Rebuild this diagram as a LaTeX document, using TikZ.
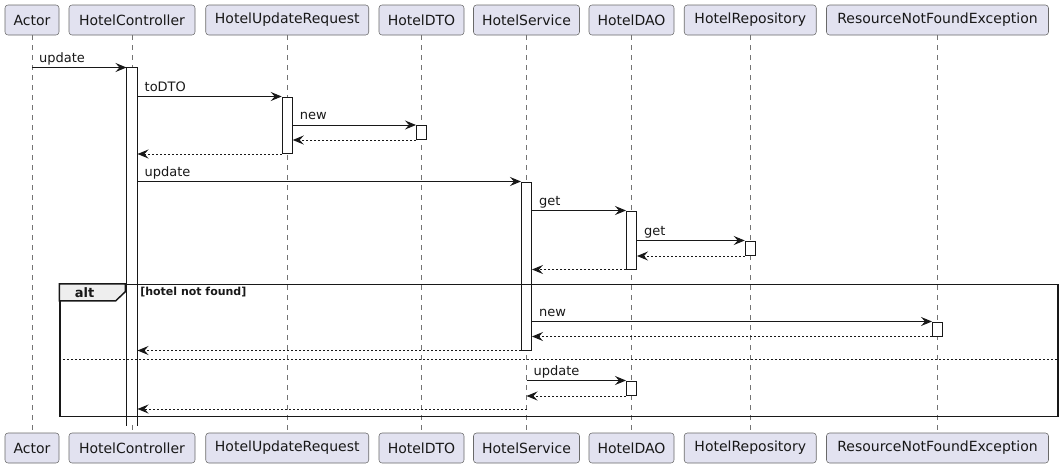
\documentclass[tikz,border=0pt]{standalone}
\usepackage{fontspec}
\setmainfont{DejaVu Sans}
\usetikzlibrary{
  positioning,
  arrows.meta,
  fit
}
\definecolor{partfill}{HTML}{E2E2F0}
\definecolor{partline}{HTML}{181818}
\definecolor{tabfill}{HTML}{EEEEEE}

\begin{document}
\begin{tikzpicture}[
  x=0.75pt, y=-0.75pt,
  part/.style={draw=partline!65, fill=partfill, rounded corners=2.25pt, minimum height=22.5pt, inner sep=0pt, font=\fontsize{10.5}{12}\selectfont, text=partline},
  life/.style={draw=partline!60, line width=0.4pt, dash pattern=on 3.75pt off 3.75pt},
  act/.style={draw=partline, fill=white, inner sep=0pt, line width=0.75pt},
  msg/.style={draw=partline, line width=0.75pt, -{Stealth[length=8.25pt, width=6.75pt, inset=3pt]}},
  ret/.style={msg, dash pattern=on 1.5pt off 1.5pt},
  lbl/.style={font=\fontsize{9.75}{11}\selectfont, text=partline, anchor=base west, inner sep=0pt, xshift=5pt, yshift=4pt},
  frame/.style={draw=partline, line width=1.1pt, inner sep=0pt},
  tab/.style={draw=partline, fill=tabfill, line width=1.1pt},
  sep/.style={draw=partline, line width=0.75pt, dash pattern=on 1.5pt off 1.5pt}
]
\useasboundingbox (0,0) rectangle (1064,468);

% Participants (top)
\node[part, minimum width=40.5pt] (actorTop) at (32,20) {Actor};
\node[part, minimum width=94.5pt] (hcTop) at (132,20) {HotelController};
\node[part, minimum width=122.25pt] (hurTop) at (287.25,20) {HotelUpdateRequest};
\node[part, minimum width=63.75pt] (dtoTop) at (421.5,20) {HotelDTO};
\node[part, minimum width=79.5pt] (hsTop) at (526.5,20) {HotelService};
\node[part, minimum width=63.75pt] (daoTop) at (631.5,20) {HotelDAO};
\node[part, minimum width=99pt] (repoTop) at (750.25,20) {HotelRepository};
\node[part, minimum width=166.5pt] (rnfeTop) at (937.5,20) {ResourceNotFoundException};

% Participants (bottom)
\node[part, minimum width=40.5pt] (actorBot) at (32,448) {Actor};
\node[part, minimum width=94.5pt] (hcBot) at (132,448) {HotelController};
\node[part, minimum width=122.25pt] (hurBot) at (287.25,448) {HotelUpdateRequest};
\node[part, minimum width=63.75pt] (dtoBot) at (421.5,448) {HotelDTO};
\node[part, minimum width=79.5pt] (hsBot) at (526.5,448) {HotelService};
\node[part, minimum width=63.75pt] (daoBot) at (631.5,448) {HotelDAO};
\node[part, minimum width=99pt] (repoBot) at (750.25,448) {HotelRepository};
\node[part, minimum width=166.5pt] (rnfeBot) at (937.5,448) {ResourceNotFoundException};

% Lifelines
\draw[life] (actorTop) -- (actorBot);
\draw[life] (hcTop) -- (hcBot);
\draw[life] (hurTop) -- (hurBot);
\draw[life] (dtoTop) -- (dtoBot);
\draw[life] (hsTop) -- (hsBot);
\draw[life] (daoTop) -- (daoBot);
\draw[life] (repoTop) -- (repoBot);
\draw[life] (rnfeTop) -- (rnfeBot);

% Activations
\node[act, draw=none, fit={(127,68) (137,425)}] (actHC) {};
\draw[draw=partline, line width=0.75pt] (actHC.south west) -- (actHC.north west) -- (actHC.north east) -- (actHC.south east);
\node[act, fit={(282.25,97) (292.25,153.5)}] (actHUR) {};
\node[act, fit={(416.5,125.5) (426.5,139.5)}] (actDTO) {};
\node[act, fit={(521.5,182) (531.5,350)}] (actHS) {};
\node[act, fit={(626.5,211) (636.5,269)}] (actDAOget) {};
\node[act, fit={(745.25,241) (755.25,255.5)}] (actRepo) {};
\node[act, fit={(932.5,322) (942.5,336)}] (actRNFE) {};
\node[act, fit={(626.5,381) (636.5,395.5)}] (actDAOupd) {};
\coordinate (hsReturn) at (526.5,409);

% Messages
\draw[msg] (actorTop |- actHC.north) -- (actHC.north west) node[lbl, pos=0] {update};
\draw[msg] (actHC.east |- actHUR.north) -- (actHUR.north west) node[lbl, pos=0] {toDTO};
\draw[msg] (actHUR.east |- actDTO.north) -- (actDTO.north west) node[lbl, pos=0] {new};
\draw[ret] (actDTO.south west) -- (actHUR.east |- actDTO.south);
\draw[ret] (actHUR.south west) -- (actHC.east |- actHUR.south);
\draw[msg] (actHC.east |- actHS.north) -- (actHS.north west) node[lbl, pos=0] {update};
\draw[msg] (actHS.east |- actDAOget.north) -- (actDAOget.north west) node[lbl, pos=0] {get};
\draw[msg] (actDAOget.east |- actRepo.north) -- (actRepo.north west) node[lbl, pos=0] {get};
\draw[ret] (actRepo.south west) -- (actDAOget.east |- actRepo.south);
\draw[ret] (actDAOget.south west) -- (actHS.east |- actDAOget.south);
\draw[msg] (actHS.east |- actRNFE.north) -- (actRNFE.north west) node[lbl, pos=0] {new};
\draw[ret] (actRNFE.south west) -- (actHS.east |- actRNFE.south);
\draw[ret] (actHS.south west) -- (actHC.east |- actHS.south);
\draw[msg] (hsTop |- actDAOupd.north) -- (actDAOupd.north west) node[lbl, pos=0] {update};
\draw[ret] (actDAOupd.south west) -- (hsTop |- actDAOupd.south);
\draw[ret] (hsReturn) -- (actHC.east |- hsReturn);

% Alt fragment
\node[frame, fit={(60,284.5) (1058,416.5)}] (altFrame) {};
\filldraw[tab] (altFrame.north west) -- ++(66,0) -- ++(0,8) -- ++(-9.5,9) -- ++(-56.5,0) -- cycle;
\node[font=\fontsize{9.75}{11}\selectfont\bfseries, text=partline, inner sep=0pt] (altKw) at (84.5,292.5) {alt};
\node[font=\fontsize{8.25}{10}\selectfont\bfseries, text=partline, inner sep=0pt, anchor=west] (altGuard) at (140,292.5) {[hotel not found]};
\draw[sep] (altFrame.west |- 0,359.5) -- (altFrame.east |- 0,359.5);

\end{tikzpicture}
\end{document}
